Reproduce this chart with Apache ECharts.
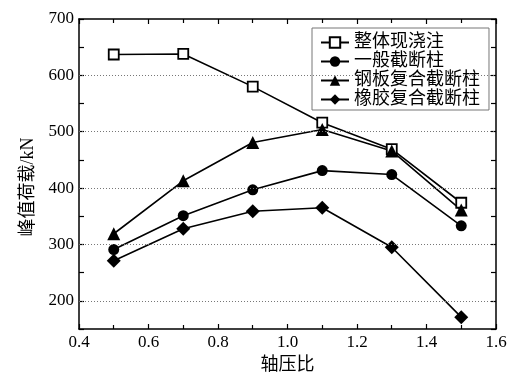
<!DOCTYPE html>
<html>
<head>
<meta charset="utf-8">
<script src="https://cdn.jsdelivr.net/npm/echarts@6/dist/echarts.min.js"></script>
<style>html,body{margin:0;padding:0;background:#fff}#c{width:523px;height:387px}</style>
</head>
<body>
<div id="c"></div>
<script>
var xValues = [0.5, 0.7, 0.9, 1.1, 1.3, 1.5];
var seriesNames = ['整体现浇注', '一般截断柱', '钢板复合截断柱', '橡胶复合截断柱'];
var zhengti = [637, 638, 580, 516, 469, 374];
var yiban = [291, 351, 397, 431, 424, 333];
var gangban = [319, 413, 481, 504, 466, 361];
var xiangjiao = [271, 328, 359, 365, 295, 171];
var xTickLabels = ['0.4', '0.6', '0.8', '1.0', '1.2', '1.4', '1.6'];
var yTickLabels = [200, 300, 400, 500, 600, 700];
var gridValues = [200, 300, 400, 500, 600];

var FONT = '"Liberation Serif", "Noto Sans CJK SC", serif';
function pairs(arr) { return xValues.map(function (x, i) { return [x, arr[i]]; }); }

var chart = echarts.init(document.getElementById('c'), null, {renderer: 'canvas'});
var axisCommon = {
  axisLine: {show: true, onZero: false, lineStyle: {color: '#000', width: 1.5}},
  axisTick: {show: true, inside: true, length: 5, lineStyle: {color: '#000', width: 1.2}},
  minorTick: {show: true, splitNumber: 2, length: 4, lineStyle: {color: '#000', width: 1.2}}
};
function lineSeries(name, data, symbol, size, fill) {
  return {
    name: name, type: 'line', data: pairs(data), z: 3,
    symbol: symbol, symbolSize: size, showSymbol: true,
    lineStyle: {color: '#000', width: 1.6},
    itemStyle: {color: fill, borderColor: '#000', borderWidth: symbol === 'rect' ? 1.8 : 0},
    emphasis: {disabled: true}, animation: false
  };
}
var option = {
  backgroundColor: '#fff',
  animation: false,
  grid: {left: 79, right: 27, top: 19, bottom: 58},
  legend: {
    left: 312, top: 28, orient: 'vertical',
    padding: [5, 9, 1, 8], itemGap: 0, itemWidth: 28, itemHeight: 13, itemTextGap: 5,
    borderColor: '#777', borderWidth: 1,
    textStyle: {fontFamily: FONT, fontSize: 18, lineHeight: 19, color: '#000'},
    data: seriesNames
  },
  xAxis: [
    Object.assign({}, axisCommon, {
      type: 'value', min: 0.4, max: 1.6, interval: 0.2, position: 'bottom',
      name: '轴压比', nameLocation: 'middle', nameGap: 25,
      nameTextStyle: {fontFamily: FONT, fontSize: 18, color: '#000'},
      axisLabel: {fontFamily: FONT, fontSize: 17, color: '#000', margin: 5,
        formatter: function (v) { var s = v.toFixed(1); return xTickLabels.indexOf(s) >= 0 ? s : ''; }},
      splitLine: {show: false}
    }),
    Object.assign({}, axisCommon, {
      type: 'value', min: 0.4, max: 1.6, interval: 0.2, position: 'top',
      axisLabel: {show: false}, splitLine: {show: false}
    })
  ],
  yAxis: [
    Object.assign({}, axisCommon, {
      type: 'value', min: 150, max: 700, interval: 50, position: 'left',
      name: '峰值荷载/kN', nameLocation: 'middle', nameGap: 38,
      nameTextStyle: {fontFamily: FONT, fontSize: 18, color: '#000', padding: [0, 26, 0, 0]},
      minorTick: {show: false},
      axisLabel: {fontFamily: FONT, fontSize: 17, color: '#000', margin: 5,
        formatter: function (v) { return yTickLabels.indexOf(v) >= 0 ? String(v) : ''; }},
      splitLine: {show: false}
    }),
    Object.assign({}, axisCommon, {
      type: 'value', min: 150, max: 700, interval: 50, position: 'right',
      minorTick: {show: false},
      axisLabel: {show: false}, splitLine: {show: false}
    })
  ],
  series: [
    {
      type: 'line', data: [], z: 1, silent: true, animation: false,
      markLine: {
        silent: true, symbol: 'none', animation: false,
        label: {show: false},
        lineStyle: {color: '#777', type: [1, 2], width: 1},
        emphasis: {disabled: true},
        data: gridValues.map(function (v) { return {yAxis: v}; })
      }
    },
    lineSeries(seriesNames[0], zhengti, 'rect', 10, '#fff'),
    lineSeries(seriesNames[1], yiban, 'circle', 11, '#000'),
    lineSeries(seriesNames[2], gangban, 'triangle', 13, '#000'),
    lineSeries(seriesNames[3], xiangjiao, 'diamond', 14, '#000')
  ]
};
chart.setOption(option);
</script>
</body>
</html>
